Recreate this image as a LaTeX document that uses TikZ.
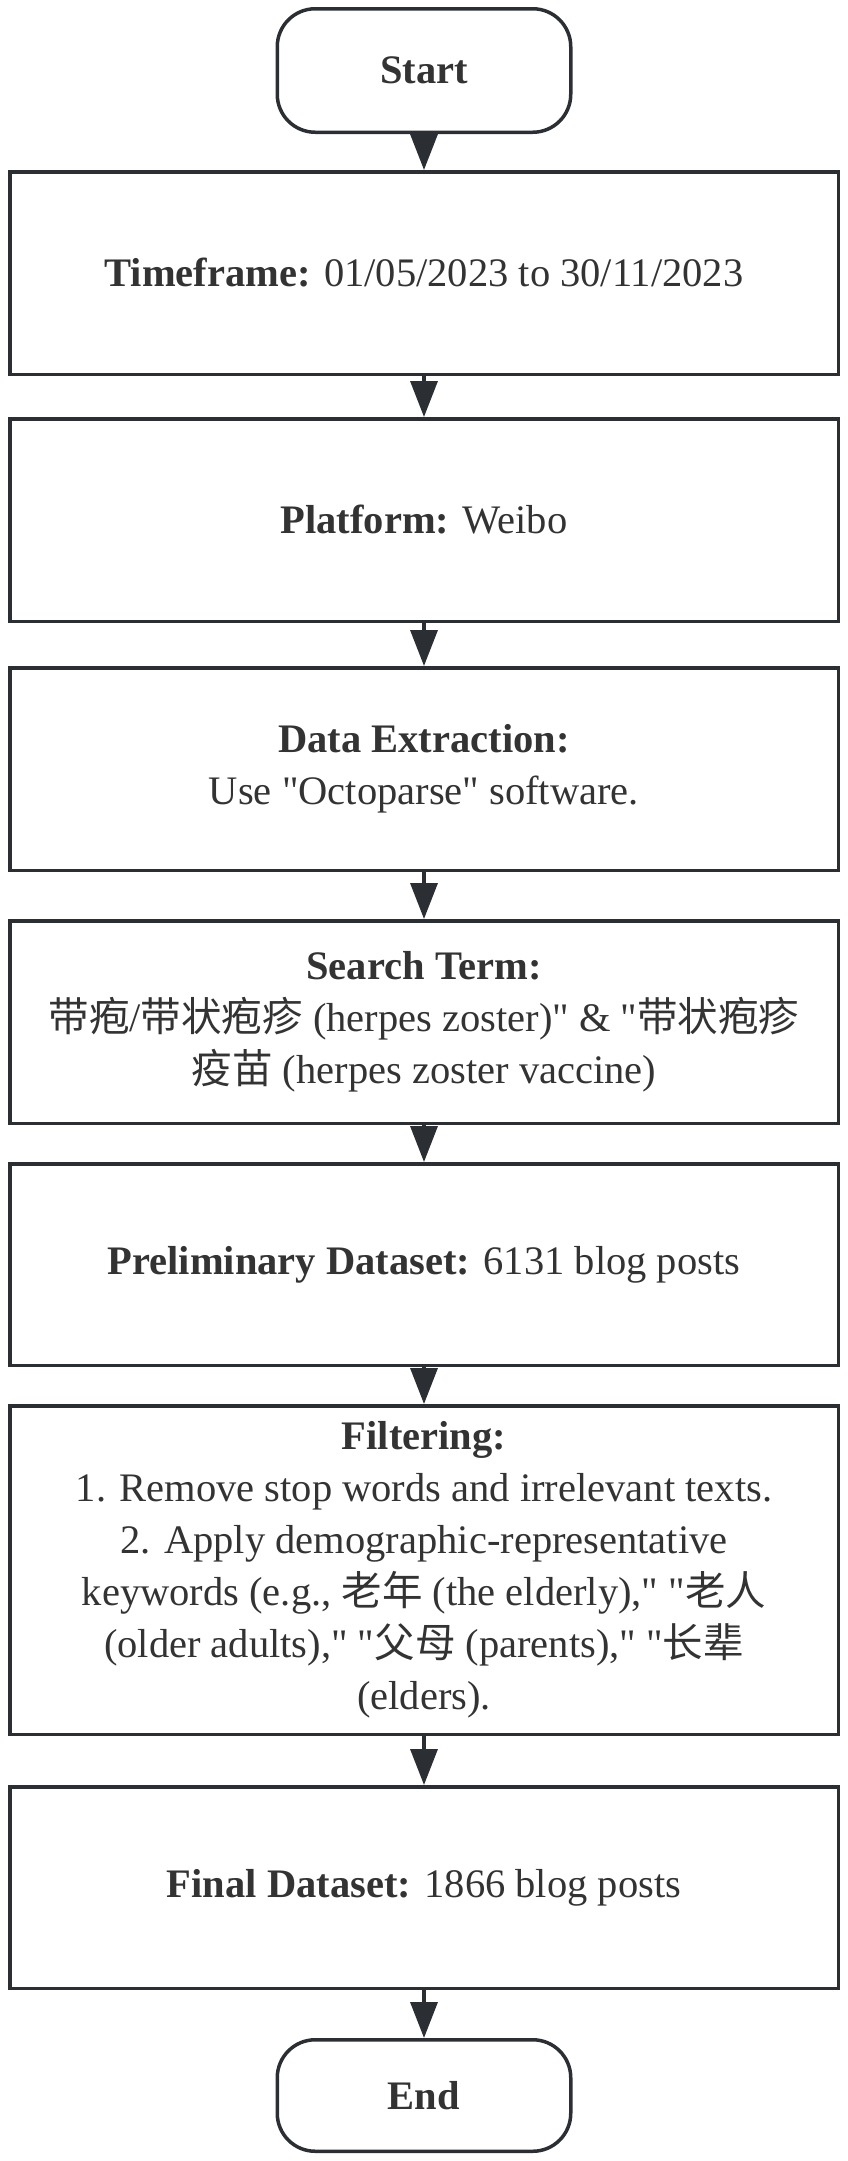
\documentclass[tikz,border=0pt]{standalone}
\usepackage{fontspec}
\setmainfont{Liberation Serif}[Ligatures=TeXOff]
\newfontfamily\cjk{Noto Sans CJK SC}
\usepackage{tikz}
\usetikzlibrary{arrows.meta}
\definecolor{linegray}{HTML}{2B2F33}
\definecolor{textgray}{HTML}{333333}
\newcommand\zh[1]{{\cjk #1}}
\newcommand\connect[2]{\draw[flow] (#1) -- (#2);}

\begin{document}
\begin{tikzpicture}[x=1pt,y=-1pt]
\tikzstyle{stage}=[draw=linegray,line width=3.5pt,rectangle,minimum width=828.5pt,minimum height=202.5pt,inner sep=0pt,text=textgray,align=center,font=\fontsize{40.5}{52}\selectfont]
\tikzstyle{terminal}=[stage,rounded corners=38pt,minimum width=293.5pt,font=\fontsize{40.5}{52}\selectfont\bfseries]
\tikzstyle{flow}=[draw=linegray,line width=3.5pt,-{Triangle[length=36pt,width=27pt]}]
\useasboundingbox (0,0) rectangle (847,2161);
% terminals and stages, top to bottom
\node[terminal,minimum height=123.5pt] (start) at (424,70.5) {Start};
\node[stage] (timeframe) at (424,273) {\textbf{Timeframe:} 01/05/2023 to 30/11/2023};
\node[stage] (platform) at (424,520) {\textbf{Platform:} Weibo};
\node[stage] (extraction) at (424,769) {\textbf{Data Extraction:}\\ Use "Octoparse" software.};
\node[stage] (search) at (424,1022) {\textbf{Search Term:}\\ \zh{带疱}/\zh{带状疱疹} (herpes zoster)" \& "\zh{带状疱疹}\\ \zh{疫苗} (herpes zoster vaccine)};
\node[stage,minimum height=201.5pt] (prelim) at (424,1264.5) {\textbf{Preliminary Dataset:} 6131 blog posts};
\node[stage,minimum height=328.5pt] (filtering) at (424,1570) {\textbf{Filtering:}\\ 1. Remove stop words and irrelevant texts.\\ 2. Apply demographic-representative\\ keywords (e.g., \zh{老年} (the elderly)," "\zh{老人}\\ (older adults)," "\zh{父母} (parents)," "\zh{长辈}\\ (elders).};
\node[stage,minimum height=201.5pt] (final) at (424,1887.5) {\textbf{Final Dataset:} 1866 blog posts};
\node[terminal,minimum height=111.5pt] (finish) at (424,2095.5) {End};
% arrows
\connect{start}{timeframe}
\connect{timeframe}{platform}
\connect{platform}{extraction}
\connect{extraction}{search}
\connect{search}{prelim}
\connect{prelim}{filtering}
\connect{filtering}{final}
\connect{final}{finish}
\end{tikzpicture}
\end{document}
